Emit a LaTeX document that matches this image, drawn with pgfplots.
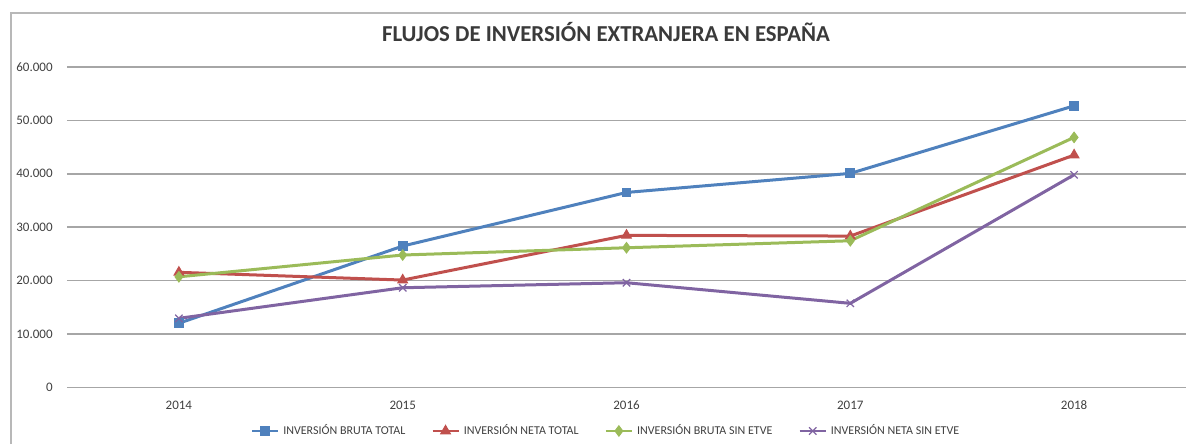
\documentclass[border=0pt]{standalone}
\usepackage{pgfplots}
\pgfplotsset{compat=1.18}
\usepackage{fontspec}
\setmainfont{Carlito}
\definecolor{sblue}{HTML}{4F81BD}
\definecolor{sred}{HTML}{C0504D}
\definecolor{sgreen}{HTML}{9BBB59}
\definecolor{spurple}{HTML}{8064A2}
\definecolor{gridgray}{HTML}{A6A6A6}
\definecolor{txt}{HTML}{404040}
\begin{document}
\begin{tikzpicture}
\path[use as bounding box] (0,0) rectangle (593pt,222pt);
\draw[gridgray!80, line width=0.6pt] (5.5pt,0) -- (5.5pt,215.5pt) -- (593pt,215.5pt);
\node[anchor=base, font=\fontsize{11.4pt}{13pt}\selectfont\bfseries, text=txt!90!black, inner sep=0pt] at (303pt,201pt) {FLUJOS DE INVERSIÓN EXTRANJERA EN ESPAÑA};
\begin{axis}[
  at={(33.5pt,28.35pt)}, anchor=south west,
  scale only axis, width=559.5pt, height=160.15pt,
  xmin=-0.5, xmax=4.5, ymin=0, ymax=60000,
  scaled y ticks=false,
  xtick={0,1,2,3,4}, xticklabels={2014,2015,2016,2017,2018},
  ytick={0,10000,20000,30000,40000,50000,60000},
  yticklabels={0,10.000,20.000,30.000,40.000,50.000,60.000},
  ymajorgrids, grid style={gridgray, line width=0.75pt},
  axis line style={draw=none}, major tick length=0pt,
  tick label style={font=\fontsize{6.5pt}{7pt}\selectfont, text=txt},
  xticklabel style={anchor=center, inner sep=0pt, yshift=-9pt},
  yticklabel style={anchor=east, inner sep=0pt, xshift=-7pt},
  every axis plot/.append style={line width=1.5pt},
  legend columns=4,
  legend style={at={(0.4826,-0.1364)}, anchor=center, draw=none, fill=none,
    font=\fontsize{6pt}{7pt}\selectfont, text=txt, inner sep=0pt,
    /tikz/every even column/.append style={column sep=11pt}},
  legend image code/.code={
    \draw[#1, line width=1.2pt] (0pt,0pt) -- (13pt,0pt);
    \draw[#1, mark repeat=1, line width=0.6pt] plot coordinates {(6.5pt,0pt)};
  },
  clip=false,
]
\addplot[color=sblue, mark=square*, mark size=2.2pt, mark options={line width=0.5pt}] coordinates {(0,12000) (1,26460) (2,36500) (3,40070) (4,52730)};
\addlegendentry{INVERSIÓN BRUTA TOTAL}
\addplot[color=sred, mark=triangle*, mark size=2.8pt, mark options={line width=0.5pt}] coordinates {(0,21540) (1,20090) (2,28460) (3,28330) (4,43500)};
\addlegendentry{INVERSIÓN NETA TOTAL}
\addplot[color=sgreen, mark=diamond*, mark size=2.6pt, mark options={line width=0.5pt}] coordinates {(0,20700) (1,24780) (2,26140) (3,27450) (4,46820)};
\addlegendentry{INVERSIÓN BRUTA SIN ETVE}
\addplot[color=spurple, mark=x, mark size=2.6pt, mark options={line width=0.6pt}] coordinates {(0,12920) (1,18650) (2,19590) (3,15730) (4,39810)};
\addlegendentry{INVERSIÓN NETA SIN ETVE}
\end{axis}
\end{tikzpicture}
\end{document}
